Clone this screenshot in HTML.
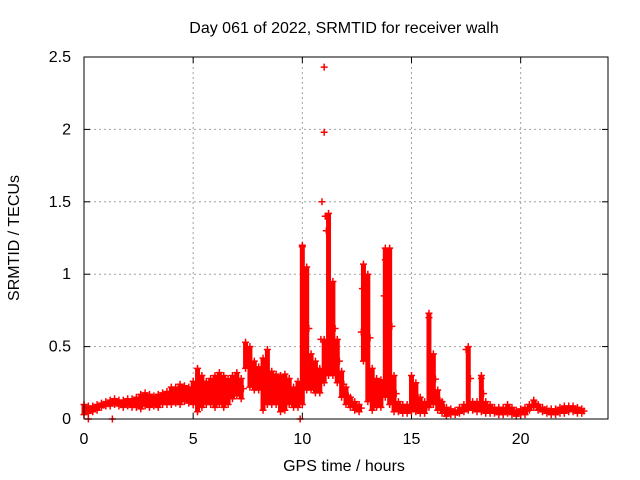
<!DOCTYPE html>
<html><head><meta charset="utf-8"><style>
body{margin:0;background:#fff}
svg{display:block;font-family:"Liberation Sans",sans-serif;font-size:16px}
</style></head><body>
<svg id="chart" width="640" height="480">
<text x="344" y="33" text-anchor="middle">Day 061 of 2022, SRMTID for receiver walh</text>
<text x="344" y="471" text-anchor="middle">GPS time / hours</text>
<text transform="translate(19,238) rotate(-90)" text-anchor="middle">SRMTID / TECUs</text>
<g id="grid"></g>
<g id="ticks"></g>
<g id="marks"></g>
<rect x="84" y="57" width="524" height="362" fill="none" stroke="#000"/>
</svg>
<script>
const xTicks=[0,5,10,15,20];
const yTicks=[0,0.5,1,1.5,2,2.5];
const yTickLabels=["0","0.5","1","1.5","2","2.5"];
const stepHours=0.2;
const hiVals=[.10,.09,.09,.10,.11,.12,.13,.14,.13,.13,.14,.14,.15,.17,.18,.17,.16,.17,.18,.19,.22,.22,.24,.23,.22,.26,.35,.30,.26,.28,.30,.32,.30,.28,.30,.32,.28,.53,.50,.40,.36,.42,.48,.33,.31,.30,.31,.28,.22,.26,1.20,1.05,.45,.40,.35,.55,1.42,.95,.55,.33,.22,.15,.12,.10,1.07,1.0,.35,.28,.27,1.18,1.18,.30,.12,.10,.10,.30,.25,.15,.12,.73,.45,.20,.12,.08,.07,.06,.08,.10,.50,.12,.12,.30,.12,.10,.08,.08,.08,.10,.08,.06,.07,.08,.10,.13,.10,.08,.07,.07,.07,.08,.09,.09,.09,.08,.07];
const loVals=[.03,.04,.05,.06,.08,.09,.09,.10,.09,.08,.09,.08,.08,.07,.09,.08,.09,.08,.10,.10,.10,.11,.10,.12,.11,.10,.05,.08,.10,.10,.08,.10,.08,.10,.14,.16,.14,.35,.22,.20,.20,.06,.10,.10,.10,.05,.06,.10,.08,.08,.10,.20,.20,.18,.18,.25,.30,.30,.25,.15,.10,.08,.06,.05,.40,.12,.06,.08,.08,.15,.10,.05,.05,.04,.04,.05,.05,.04,.04,.08,.10,.06,.04,.02,.03,.03,.04,.05,.06,.06,.05,.05,.04,.04,.04,.03,.03,.04,.03,.02,.03,.03,.06,.08,.06,.05,.04,.03,.03,.04,.04,.05,.05,.04,.04];
const extraT=[11.0,11.0,10.9,11.05,12.75,13.8,13.75,10.0,10.85,15.8,17.5,18.2,1.3,0.2,9.9,11.1,12.7];
const extraV=[2.43,1.98,1.5,1.4,0.9,1.1,0.85,1.19,0.55,0.7,0.48,0.28,0.0,0.0,0.0,1.3,0.6];
const NS="http://www.w3.org/2000/svg";
const X0=84,X1=608,Y0=419,Y1=57;
const xs=t=>X0+t/24*(X1-X0);
const ys=v=>Y0-v/2.5*(Y0-Y1);
function mk(tag,attrs,parent){const e=document.createElementNS(NS,tag);for(const k in attrs)e.setAttribute(k,attrs[k]);parent.appendChild(e);return e;}
const grid=document.getElementById('grid'),ticks=document.getElementById('ticks'),marks=document.getElementById('marks');
xTicks.forEach(t=>{const x=xs(t);
 if(t>0){const g=mk('line',{x1:x,x2:x,y1:Y1,y2:Y0,stroke:'#a0a0a0','stroke-dasharray':'2,3'},grid);
 
 }
 mk('line',{x1:x,x2:x,y1:Y0,y2:Y0-6,stroke:'#000'},ticks);
 mk('line',{x1:x,x2:x,y1:Y1,y2:Y1+6,stroke:'#000'},ticks);
 const l=mk('text',{x:x,y:444,'text-anchor':'middle'},ticks);l.textContent=String(t);
 
 
});
yTicks.forEach((v,i)=>{const y=ys(v);
 if(v>0&&v<2.5){const g=mk('line',{x1:X0,x2:X1,y1:y,y2:y,stroke:'#a0a0a0','stroke-dasharray':'2,3'},grid);
 
 }
 mk('line',{x1:X0,x2:X0+6,y1:y,y2:y,stroke:'#000'},ticks);
 mk('line',{x1:X1,x2:X1-6,y1:y,y2:y,stroke:'#000'},ticks);
 const l=mk('text',{x:71,y:y+5,'text-anchor':'end'},ticks);l.textContent=yTickLabels[i];
 
 
});
function plus(t,v){const x=xs(t),y=ys(v);
 const p=mk('path',{d:`M${x-3.5},${y}h7M${x},${y-3.5}v7`,stroke:'#f00','stroke-width':1.5,fill:'none'},marks);
 
 }
hiVals.forEach((h,i)=>{const t=i*stepHours,lo=loVals[i];
 const b=mk('rect',{x:xs(t)-2.5,y:ys(h),width:5,height:Math.max(0,ys(lo)-ys(h)),fill:'#f00'},marks);
 
 
 plus(t,h);plus(t,lo);plus(t+stepHours/2,(h+lo)/2);
});
extraT.forEach((t,i)=>plus(t,extraV[i]));
</script>
</body></html>
